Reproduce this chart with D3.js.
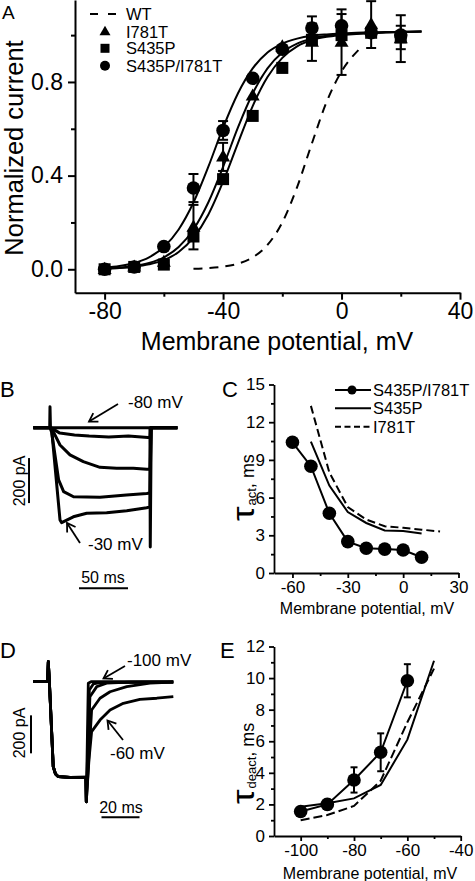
<!DOCTYPE html>
<html><head><meta charset="utf-8">
<script src="https://cdn.jsdelivr.net/npm/d3@7"></script>
<style>
body{margin:0;background:#fff;}
svg{display:block;}
</style></head><body>
<svg id="c" width="475" height="881"></svg>
<script>
// ---------- Panel A data ----------
const voltA = [-80,-70,-60,-50,-40,-30,-20,-10,0,10,20];
const i781t = [0.0,0.01,0.03,0.18,0.48,0.74,0.95,0.97,0.97,1.045,0.985];
const i781tErr = [0,0,0,0.095,0.06,0,0,0.08,0.14,0.1,0.1];
const s435p = [0.0,0.01,0.02,0.14,0.385,0.655,0.86,0.98,1.0,1.01,0.99];
const s435pErr = [0,0,0,0,0,0,0,0,0,0,0.05];
const dbl = [0.0,0.01,0.097,0.347,0.593,0.816,0.94,1.03,1.04,1.01,1.0];
const dblErr = [0,0,0,0.06,0.04,0,0,0.05,0.05,0,0];
const fitV = [-80,-75,-70,-65,-60,-55,-50,-45,-40,-35,-30,-25,-20,-15,-10,-5,0,5,10,15,20,27];
const fitDbl = [0.007,0.014,0.027,0.051,0.095,0.17,0.285,0.437,0.605,0.751,0.858,0.926,0.964,0.985,0.997,1.003,1.007,1.01,1.012,1.013,1.014,1.015];
const fitI781T = [0.004,0.007,0.014,0.027,0.051,0.095,0.17,0.285,0.437,0.605,0.751,0.858,0.926,0.964,0.985,0.997,1.003,1.007,1.01,1.012,1.013,1.015];
const fitS435P = [0.003,0.0055,0.011,0.021,0.039,0.074,0.135,0.233,0.374,0.538,0.697,0.821,0.903,0.952,0.979,0.993,1.0,1.005,1.008,1.011,1.013,1.015];
const wtV = [-50,-45,-40,-35,-30,-25,-20,-15,-10,-5,0,6];
const wtI = [0.0025,0.005,0.011,0.024,0.051,0.104,0.2,0.351,0.538,0.716,0.845,0.94];
const xTicksA = [-80,-40,0,40], xTickLabelsA = ["-80","-40","0","40"], xMinorA = [-60,-20,20];
const yTicksA = [0,0.4,0.8], yTickLabelsA = ["0.0","0.4","0.8"], yMinorA = [0.2,0.6,1.0];
const legendA = ["WT","I781T","S435P","S435P/I781T"];

// ---------- Panel B data (time ms, current pA) ----------
const traceB1 = [[-17,0],[-0.3,0],[0,93],[0.5,-5],[1,0],[102,0],[102.3,-530],[103.3,0],[130,0]];
const traceB2 = [[-17,0],[0,0],[1.7,-2],[10,-24],[25,-32],[40,-37],[60,-41],[80,-37],[100,-44],[102,-44],[103,0],[130,0]];
const traceB3 = [[-17,0],[0,0],[1.7,-3],[10.2,-77],[20.4,-121],[34,-151],[51,-176],[68,-180],[85,-180],[98.7,-185],[102,-185],[103,0],[130,0]];
const traceB4 = [[-17,0],[0,0],[1.7,-20],[8.8,-232],[13.9,-284],[24,-307],[51,-309],[78,-299],[98.7,-292],[102,-290],[103,0],[130,0]];
const traceB5 = [[-17,0],[0,0],[1.7,-10],[10.2,-410],[11.9,-422],[23.8,-396],[37.4,-380],[57.8,-378],[78.3,-369],[98.7,-356],[102,-352],[103,0],[130,0]];

// ---------- Panel C data ----------
const voltC = [-60,-50,-40,-30,-20,-10,0,10];
const tauActDbl = [10.4,8.5,4.75,2.5,1.97,1.9,1.83,1.25];
const voltCs = [-50,-40,-30,-20,-10,0,10];
const tauActS435P = [10.45,6.96,4.85,3.98,3.38,3.35,3.15];
const voltCi = [-50,-40,-30,-20,-10,0,10,20];
const tauActI781T = [13.3,8.0,5.25,4.25,3.72,3.6,3.45,3.3];
const xTicksC = [-60,-30,0,30], xTickLabelsC = ["-60","-30","0","30"], xMinorC = [-45,-15,15];
const yTicksC = [0,3,6,9,12,15], yMinorC = [1.5,4.5,7.5,10.5,13.5];
const legendC = ["S435P/I781T","S435P","I781T"];

// ---------- Panel D data (time ms, current pA) ----------
const pulseD = [[-7.9,0],[-0.4,0],[0,105],[0.6,-7],[2.6,-447],[3.8,-486],[5.3,-500],[11.4,-504],[19.8,-502],[20,-632]];
const tailD100 = [[21.05,-8],[22.5,0],[65.8,0]];
const tailD90 = [[21.6,-44],[23.7,-12],[27.2,-5],[65.8,-3]];
const tailD80 = [[21.9,-79],[25.5,-26],[30.7,-8],[43,-2],[65.8,-1]];
const tailD70 = [[22.8,-149],[27.2,-87],[32.5,-53],[41.3,-26],[53.5,-8],[65.8,-2]];
const tailD60 = [[21.4,-412],[22.8,-263],[27.2,-202],[32.5,-149],[39.5,-114],[48.2,-93],[57.1,-87],[65.8,-79]];

// ---------- Panel E data ----------
const voltE = [-100,-90,-80,-70,-60];
const tauDeDbl = [1.55,2.0,3.55,5.3,9.83];
const tauDeErr = [0.1,0.3,0.8,1.2,1.05];
const voltE2 = [-100,-90,-80,-70,-60,-50];
const tauDeS435P = [1.85,2.07,2.38,3.23,6.1,11.1];
const tauDeI781T = [1.0,1.33,1.9,3.5,7.2,10.6];
const xTicksE = [-100,-80,-60,-40], xTickLabelsE = ["-100","-80","-60","-40"], xMinorE = [-90,-70,-50];
const yTicksE = [0,2,4,6,8,10,12], yMinorE = [1,3,5,7,9,11];

// ====================================================
const FONT = '"Liberation Sans", Arial, Helvetica, sans-serif';
const svg = d3.select("#c").attr("font-family", FONT);
svg.append("rect").attr("width",475).attr("height",881).attr("fill","#fff");

const defs = svg.append("defs");
defs.append("marker").attr("id","arr").attr("markerUnits","userSpaceOnUse")
  .attr("markerWidth",14).attr("markerHeight",14).attr("viewBox","-10 -7 12 14")
  .attr("refX",0).attr("refY",0).attr("orient","auto")
  .append("path").attr("d","M-8,-5 L0,0 L-8,5").attr("fill","none").attr("stroke","#000").attr("stroke-width",1.8);

function styleAxis(g, fs, sw){
  g.attr("font-family", FONT).attr("font-size", fs);
  g.select(".domain").attr("stroke-width", sw).attr("stroke","#000");
  g.selectAll(".tick line").attr("stroke-width", sw).attr("stroke","#000");
  g.selectAll(".tick text").attr("fill","#000");
}
function minor(g, sw){ g.select(".domain").remove(); g.selectAll(".tick line").attr("stroke-width", sw).attr("stroke","#000"); }

function drawAxes(x, y, o){
  const xb = y.range()[0];
  const xl = x.range()[0];
  const gx = svg.append("g").attr("transform",`translate(0,${xb})`)
    .call(d3.axisBottom(x).tickValues(o.xt).tickFormat((d,i)=>o.xl[i]).tickSize(o.ts).tickSizeOuter(0).tickPadding(o.xpad));
  styleAxis(gx, o.fs, o.sw);
  svg.append("g").attr("transform",`translate(0,${xb})`)
    .call(d3.axisBottom(x).tickValues(o.xm).tickFormat("").tickSize(o.tm)).call(g=>minor(g,o.sw));
  const gy = svg.append("g").attr("transform",`translate(${xl},0)`)
    .call(d3.axisLeft(y).tickValues(o.yt).tickFormat((d,i)=>o.yl[i]).tickSize(o.ts).tickSizeOuter(0).tickPadding(o.ypad));
  styleAxis(gy, o.fs, o.sw);
  svg.append("g").attr("transform",`translate(${xl},0)`)
    .call(d3.axisLeft(y).tickValues(o.ym).tickFormat("").tickSize(o.tm)).call(g=>minor(g,o.sw));
}

function triPath(cx, cy, s){ const h = s*0.866; return `M${cx},${cy-h*0.62} L${cx+s/2},${cy+h*0.38} L${cx-s/2},${cy+h*0.38} Z`; }

function tauLabel(x0, y0, sub){
  const g = svg.append("g").attr("transform",`translate(${x0},${y0}) rotate(-90)`);
  const t0 = g.append("text").attr("font-size",32).attr("transform","scale(1.15,1)").text("τ");
  const w0 = t0.node().getComputedTextLength()*1.15;
  const t1 = g.append("text").attr("x",w0+1).attr("y",2).attr("font-size",13).text(sub);
  const w1 = t1.node().getComputedTextLength();
  g.append("text").attr("x",w0+1+w1).attr("y",0).attr("font-size",18).text(", ms");
}

// ==================== Panel A ====================
const xA = d3.scaleLinear().domain([-90,40]).range([75,460]);
const yA = d3.scaleLinear().domain([-0.1,1.15]).range([292.7,0]);
drawAxes(xA, yA, {xt:xTicksA, xl:xTickLabelsA, xm:xMinorA, yt:yTicksA, yl:yTickLabelsA, ym:yMinorA, ts:7, tm:4, fs:23, sw:2, xpad:3, ypad:5});

const lineA = d3.line().x(d=>xA(d[0])).y(d=>yA(d[1])).curve(d3.curveMonotoneX);
[fitDbl, fitI781T, fitS435P].forEach(f=>{
  svg.append("path").attr("d", lineA(fitV.map((v,i)=>[v,f[i]]))).attr("fill","none").attr("stroke","#000").attr("stroke-width",2);
});
svg.append("path").attr("d", lineA(wtV.map((v,i)=>[v,wtI[i]]))).attr("fill","none").attr("stroke","#000")
  .attr("stroke-width",2).attr("stroke-dasharray","9,7");

function errBars(x, y, xs, ys, es, cap, sw){
  xs.forEach((v,i)=>{
    if(!es[i]) return;
    const cx = x(v), y1 = y(ys[i]-es[i]), y2 = y(ys[i]+es[i]);
    svg.append("line").attr("x1",cx).attr("x2",cx).attr("y1",y1).attr("y2",y2).attr("stroke","#000").attr("stroke-width",sw);
    [y1,y2].forEach(yy=>svg.append("line").attr("x1",cx-cap/2).attr("x2",cx+cap/2).attr("y1",yy).attr("y2",yy).attr("stroke","#000").attr("stroke-width",sw));
  });
}
errBars(xA,yA,voltA,i781t,i781tErr,10,2);
errBars(xA,yA,voltA,s435p,s435pErr,10,2);
errBars(xA,yA,voltA,dbl,dblErr,10,2);

voltA.forEach((v,i)=>{
  svg.append("rect").attr("x",xA(v)-6).attr("y",yA(s435p[i])-6).attr("width",12).attr("height",12).attr("fill","#000");
});
voltA.forEach((v,i)=>{
  svg.append("circle").attr("cx",xA(v)).attr("cy",yA(dbl[i])).attr("r",6.8).attr("fill","#000");
});
voltA.forEach((v,i)=>{
  svg.append("path").attr("d",triPath(xA(v),yA(i781t[i]),14)).attr("fill","#000");
});

// legend A
svg.append("line").attr("x1",90).attr("x2",125).attr("y1",14).attr("y2",14).attr("stroke","#000").attr("stroke-width",2).attr("stroke-dasharray","8,10");
svg.append("path").attr("d",triPath(105,31.7,11)).attr("fill","#000");
svg.append("rect").attr("x",100.5).attr("y",43.8).attr("width",9).attr("height",9).attr("fill","#000");
svg.append("circle").attr("cx",105).attr("cy",65.7).attr("r",5).attr("fill","#000");
[14,31.7,48.3,65.7].forEach((yy,i)=>{
  svg.append("text").attr("x",126).attr("y",yy+6).attr("font-size",16.5).text(legendA[i]);
});

svg.append("text").attr("transform","translate(23,148) rotate(-90)").attr("text-anchor","middle").attr("font-size",25.5).text("Normalized current");
svg.append("text").attr("x",277).attr("y",350).attr("text-anchor","middle").attr("font-size",25).text("Membrane potential, mV");
svg.append("text").attr("x",2).attr("y",19).attr("font-size",19).text("A");

// ==================== Panel B ====================
const xB = d3.scaleLinear().domain([0,50]).range([50,99]);
const yB = d3.scaleLinear().domain([0,-200]).range([427.7,472.7]);
const lineB = d3.line().x(d=>xB(d[0])).y(d=>yB(d[1]));
[traceB1,traceB2,traceB3,traceB4,traceB5].forEach(t=>{
  svg.append("path").attr("d",lineB(t)).attr("fill","none").attr("stroke","#000").attr("stroke-width",3).attr("stroke-linejoin","round");
});
// scale bars
svg.append("line").attr("x1",xB(-21.4)).attr("x2",xB(-21.4)).attr("y1",yB(-135)).attr("y2",yB(-335)).attr("stroke","#000").attr("stroke-width",2);
svg.append("line").attr("x1",xB(29.6)).attr("x2",xB(79.6)).attr("y1",yB(-714)).attr("y2",yB(-714)).attr("stroke","#000").attr("stroke-width",2);
svg.append("text").attr("transform","translate(25,481) rotate(-90)").attr("text-anchor","middle").attr("font-size",16).text("200 pA");
svg.append("text").attr("x",103).attr("y",583).attr("text-anchor","middle").attr("font-size",16).text("50 ms");
svg.append("line").attr("x1",118).attr("y1",404).attr("x2",89).attr("y2",421.5).attr("stroke","#000").attr("stroke-width",1.8).attr("marker-end","url(#arr)");
svg.append("text").attr("x",128).attr("y",408).attr("font-size",17).text("-80 mV");
svg.append("line").attr("x1",80).attr("y1",543).attr("x2",67).attr("y2",523).attr("stroke","#000").attr("stroke-width",1.8).attr("marker-end","url(#arr)");
svg.append("text").attr("x",88).attr("y",550).attr("font-size",17).text("-30 mV");
svg.append("text").attr("x",0).attr("y",397).attr("font-size",22).text("B");

// ==================== Panel C ====================
const xC = d3.scaleLinear().domain([-70,30]).range([274,458.5]);
const yC = d3.scaleLinear().domain([0,15]).range([573,384.5]);
drawAxes(xC, yC, {xt:xTicksC, xl:xTickLabelsC, xm:xMinorC, yt:yTicksC, yl:yTicksC.map(String), ym:yMinorC, ts:5, tm:3, fs:17, sw:1.8, xpad:3, ypad:4});
const lineC = d3.line().x(d=>xC(d[0])).y(d=>yC(d[1]));
svg.append("path").attr("d",lineC(voltCs.map((v,i)=>[v,tauActS435P[i]]))).attr("fill","none").attr("stroke","#000").attr("stroke-width",2);
svg.append("path").attr("d",lineC(voltCi.map((v,i)=>[v,tauActI781T[i]]))).attr("fill","none").attr("stroke","#000").attr("stroke-width",2).attr("stroke-dasharray","8,4");
svg.append("path").attr("d",lineC(voltC.map((v,i)=>[v,tauActDbl[i]]))).attr("fill","none").attr("stroke","#000").attr("stroke-width",2);
voltC.forEach((v,i)=>svg.append("circle").attr("cx",xC(v)).attr("cy",yC(tauActDbl[i])).attr("r",6.8).attr("fill","#000"));
// legend C
[390,408.3,426.7].forEach((yy,i)=>{
  const l = svg.append("line").attr("x1",335).attr("x2",371).attr("y1",yy).attr("y2",yy).attr("stroke","#000").attr("stroke-width",2);
  if(i===2) l.attr("stroke-dasharray","6,3.5");
  svg.append("text").attr("x",373).attr("y",yy+6).attr("font-size",16.5).text(legendC[i]);
});
svg.append("circle").attr("cx",352).attr("cy",390).attr("r",4.5).attr("fill","#000");
tauLabel(254, 521, "act");
svg.append("text").attr("x",367).attr("y",614).attr("text-anchor","middle").attr("font-size",16).text("Membrane potential, mV");
svg.append("text").attr("x",222).attr("y",397).attr("font-size",22).text("C");

// ==================== Panel D ====================
const xD = d3.scaleLinear().domain([0,20]).range([48.3,86.3]);
const yD = d3.scaleLinear().domain([0,-200]).range([681.7,719.7]);
const lineD = d3.line().x(d=>xD(d[0])).y(d=>yD(d[1]));
[tailD100,tailD90,tailD80,tailD70,tailD60].forEach(t=>{
  svg.append("path").attr("d",lineD(pulseD.concat(t))).attr("fill","none").attr("stroke","#000").attr("stroke-width",2.8).attr("stroke-linejoin","round");
});
svg.append("line").attr("x1",xD(-9.1)).attr("x2",xD(-9.1)).attr("y1",yD(-177)).attr("y2",yD(-377)).attr("stroke","#000").attr("stroke-width",2);
svg.append("line").attr("x1",xD(28)).attr("x2",xD(48)).attr("y1",yD(-714)).attr("y2",yD(-714)).attr("stroke","#000").attr("stroke-width",2);
svg.append("text").attr("transform","translate(25,733) rotate(-90)").attr("text-anchor","middle").attr("font-size",16).text("200 pA");
svg.append("text").attr("x",121).attr("y",813).attr("text-anchor","middle").attr("font-size",16).text("20 ms");
svg.append("line").attr("x1",125).attr("y1",666).attr("x2",103.5).attr("y2",678.5).attr("stroke","#000").attr("stroke-width",1.8).attr("marker-end","url(#arr)");
svg.append("text").attr("x",127).attr("y",666).attr("font-size",17).text("-100 mV");
svg.append("line").attr("x1",123).attr("y1",740).attr("x2",107.5).attr("y2",720.5).attr("stroke","#000").attr("stroke-width",1.8).attr("marker-end","url(#arr)");
svg.append("text").attr("x",110).attr("y",759).attr("font-size",17).text("-60 mV");
svg.append("text").attr("x",0).attr("y",658).attr("font-size",22).text("D");

// ==================== Panel E ====================
const xE = d3.scaleLinear().domain([-110,-40]).range([274,460.7]);
const yE = d3.scaleLinear().domain([0,12]).range([836,646.5]);
drawAxes(xE, yE, {xt:xTicksE, xl:xTickLabelsE, xm:xMinorE, yt:yTicksE, yl:yTicksE.map(String), ym:yMinorE, ts:5, tm:3, fs:17, sw:1.8, xpad:3, ypad:4});
const lineE = d3.line().x(d=>xE(d[0])).y(d=>yE(d[1]));
svg.append("path").attr("d",lineE(voltE2.map((v,i)=>[v,tauDeS435P[i]]))).attr("fill","none").attr("stroke","#000").attr("stroke-width",2);
svg.append("path").attr("d",lineE(voltE2.map((v,i)=>[v,tauDeI781T[i]]))).attr("fill","none").attr("stroke","#000").attr("stroke-width",2).attr("stroke-dasharray","9,4");
svg.append("path").attr("d",lineE(voltE.map((v,i)=>[v,tauDeDbl[i]]))).attr("fill","none").attr("stroke","#000").attr("stroke-width",2);
errBars(xE,yE,voltE,tauDeDbl,tauDeErr,7,2);
voltE.forEach((v,i)=>svg.append("circle").attr("cx",xE(v)).attr("cy",yE(tauDeDbl[i])).attr("r",6.8).attr("fill","#000"));
tauLabel(254, 804, "deact");
svg.append("text").attr("x",370).attr("y",879).attr("text-anchor","middle").attr("font-size",16).text("Membrane potential, mV");
svg.append("text").attr("x",220).attr("y",658).attr("font-size",22).text("E");
</script>
</body></html>
